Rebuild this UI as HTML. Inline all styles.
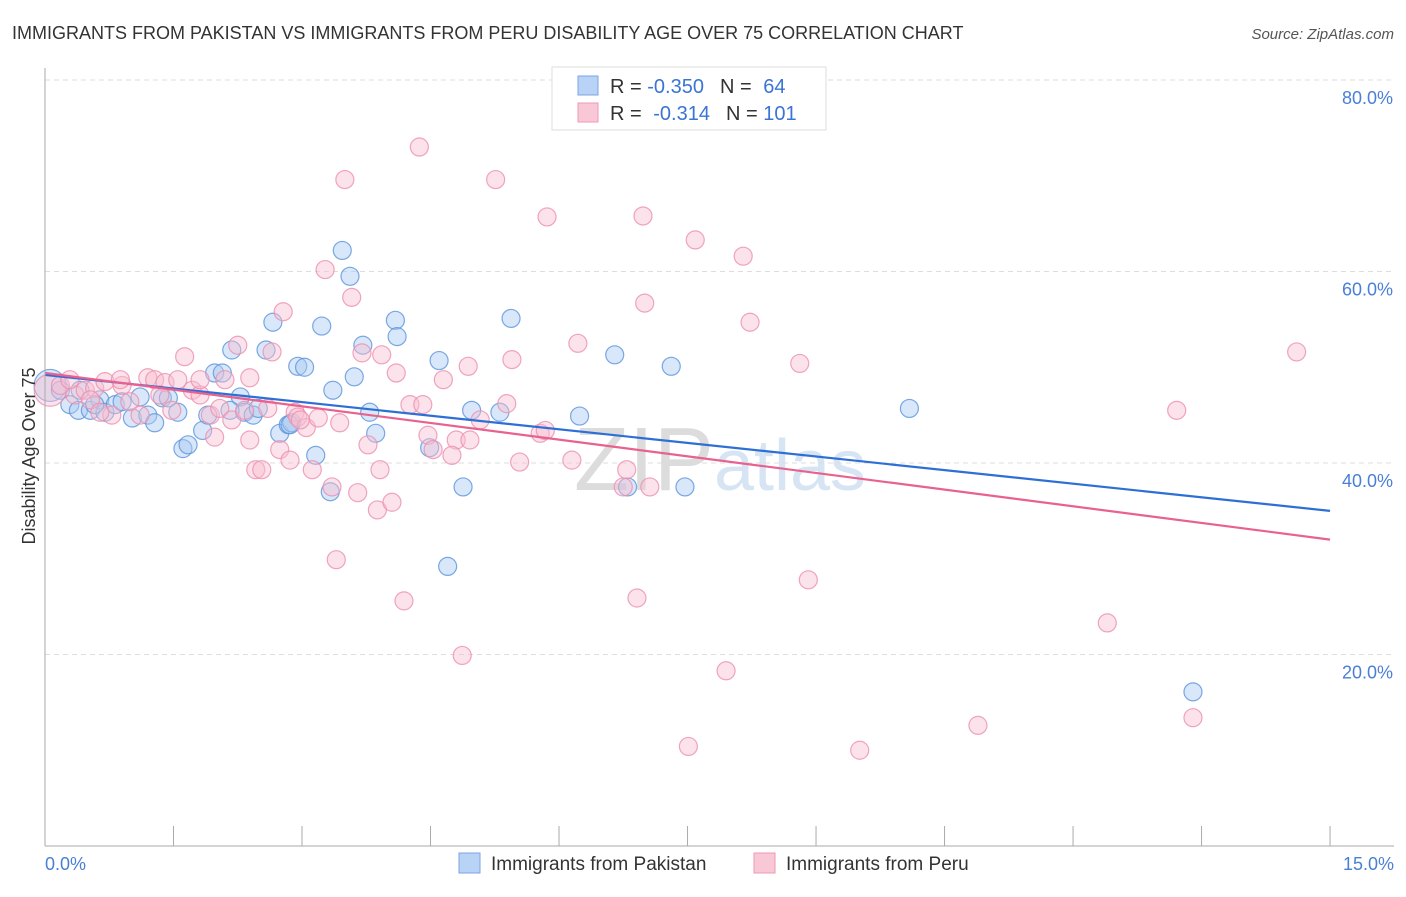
<!DOCTYPE html>
<html><head><meta charset="utf-8"><style>
body{margin:0;background:#fff;font-family:"Liberation Sans",sans-serif}
svg text{font-family:"Liberation Sans",sans-serif}
</style></head><body>
<svg id="chart" width="1406" height="892">
<text x="12" y="39" font-size="18" fill="#333">IMMIGRANTS FROM PAKISTAN VS IMMIGRANTS FROM PERU DISABILITY AGE OVER 75 CORRELATION CHART</text>
<text x="1394" y="39" font-size="15" fill="#555" font-style="italic" text-anchor="end">Source: ZipAtlas.com</text>
<text x="720" y="490" font-size="90" fill="#e4e4e4" text-anchor="middle" font-family="Liberation Serif"><tspan fill="#dcdcdc">ZIP</tspan><tspan fill="#d6e4f4" font-family="Liberation Sans" font-size="72">atlas</tspan></text>
<g id="grid"></g>
<g id="pts"></g>
<g id="lines"></g>
<line x1="45" y1="68" x2="45" y2="846" stroke="#aaa"/>
<line x1="45" y1="846" x2="1394" y2="846" stroke="#aaa"/>
<text x="35" y="456" font-size="18" fill="#333" text-anchor="middle" transform="rotate(-90 35 456)">Disability Age Over 75</text>
<text x="45" y="870" font-size="18" fill="#4a7fd6">0.0%</text>
<text x="1394" y="870" font-size="18" fill="#4a7fd6" text-anchor="end">15.0%</text>
<g>
<rect x="552" y="67" width="274" height="63" fill="#fff" stroke="#ddd"/>
<rect x="578" y="76" width="20" height="19" fill="#b8d3f5" stroke="#7aa6e0"/>
<rect x="578" y="103" width="20" height="19" fill="#f9c8d6" stroke="#ee99b3"/>
<text x="610" y="93" font-size="20" fill="#333">R = <tspan fill="#3a74d4">-0.350</tspan><tspan dx="16">N = </tspan><tspan fill="#3a74d4" dx="6">64</tspan></text>
<text x="610" y="120" font-size="20" fill="#333">R = <tspan fill="#3a74d4" dx="6">-0.314</tspan><tspan dx="16">N = </tspan><tspan fill="#3a74d4">101</tspan></text>
</g>
<g>
<rect x="459" y="853" width="21" height="20" fill="#b8d3f5" stroke="#7aa6e0"/>
<text x="491" y="870" font-size="19" fill="#333">Immigrants from Pakistan</text>
<rect x="754" y="853" width="21" height="20" fill="#f9c8d6" stroke="#ee99b3"/>
<text x="786" y="870" font-size="19" fill="#333">Immigrants from Peru</text>
</g>
</svg>
<script>
const yTicks=[20,40,60,80];
const yTickLabels=["20.0%","40.0%","60.0%","80.0%"];
const xTicks=[0,1.5,3,4.5,6,7.5,9,10.5,12,13.5,15];
const pakX=[0.06,0.18,0.29,0.39,0.53,0.64,0.70,0.82,0.90,1.02,1.11,1.20,1.28,1.37,1.44,1.55,1.61,1.67,1.84,1.90,1.98,2.07,2.18,2.28,2.33,2.43,2.49,2.58,2.66,2.74,2.84,2.88,2.95,3.03,3.16,3.23,3.33,3.36,3.47,3.56,3.61,3.71,3.79,3.86,4.09,4.11,4.49,4.60,4.70,4.88,4.98,5.31,5.44,6.24,6.65,6.80,7.31,7.47,10.09,13.40,0.41,0.58,2.16,2.86];
const pakY=[48.1,47.6,46.1,45.5,45.5,46.6,45.3,46.1,46.4,44.7,46.9,45.0,44.2,46.8,46.8,45.3,41.5,41.9,43.4,45.0,49.4,49.4,51.8,46.9,45.3,45.0,45.7,51.8,54.7,43.1,44.0,44.2,50.1,50.0,40.8,54.3,37.0,47.6,62.2,59.5,49.0,52.3,45.3,43.1,54.9,53.2,41.6,50.7,29.2,37.5,45.5,45.3,55.1,44.9,51.3,37.5,50.1,37.5,45.7,16.1,47.6,46.1,45.5,44.0];
const peruX=[0.06,0.18,0.35,0.47,0.58,0.70,0.78,0.90,0.99,1.11,1.20,1.28,1.40,1.48,1.55,1.63,1.72,1.81,1.93,1.98,2.04,2.10,2.18,2.25,2.33,2.39,2.46,2.53,2.60,2.65,2.74,2.78,2.86,2.92,2.95,3.05,3.12,3.19,3.27,3.35,3.40,3.44,3.50,3.58,3.65,3.70,3.77,3.88,3.93,4.05,4.10,4.19,4.26,4.37,4.41,4.47,4.53,4.65,4.80,4.75,4.87,4.94,5.08,5.26,5.39,5.45,5.54,5.78,5.86,6.15,6.22,6.75,6.79,6.91,6.98,7.00,7.06,7.51,7.59,7.95,8.15,8.23,8.81,8.91,9.51,10.89,12.40,13.21,13.40,14.61,0.29,0.53,0.64,0.88,1.34,1.81,2.98,2.39,4.96,5.84,3.91];
const peruY=[47.6,48.1,47.1,47.6,47.8,48.5,45.0,48.1,46.4,45.0,48.9,48.7,48.4,45.5,48.7,51.1,47.6,47.1,45.0,42.7,45.7,48.7,44.5,52.3,45.5,48.9,39.3,39.3,45.7,51.6,41.4,55.8,40.3,45.3,44.8,43.7,39.3,44.7,60.2,37.5,29.9,44.2,69.6,57.3,36.9,51.5,41.9,35.1,51.3,35.9,49.4,25.6,46.1,73.0,46.1,42.9,41.4,48.7,42.4,40.8,19.9,50.1,44.5,69.6,46.2,50.8,40.1,43.1,65.7,40.3,52.5,37.5,39.3,25.9,65.8,56.7,37.5,10.4,63.3,18.3,61.6,54.7,50.4,27.8,10.0,12.6,23.3,45.5,13.4,51.6,48.7,46.6,45.3,48.7,47.1,48.7,44.5,42.4,42.4,43.4,39.3];
const pakTrend=[49.2,35.0];
const peruTrend=[49.4,32.0];
const trendX=[0,15];
const NS='http://www.w3.org/2000/svg';
const sx=v=>45+v*85.67, sy=v=>846-v*9.575;
function mk(t,a,p){const e=document.createElementNS(NS,t);for(const k in a)e.setAttribute(k,a[k]);p.appendChild(e);return e;}
const grid=document.getElementById('grid');
yTicks.forEach((t,i)=>{
 const l=mk('line',{x1:45,x2:1394,y1:sy(t),y2:sy(t),stroke:'#ddd','stroke-dasharray':'5,4'},grid);
 
 
 const tx=mk('text',{x:1393,y:sy(t)+24,'font-size':18,fill:'#4a7fd6','text-anchor':'end'},grid);
 tx.textContent=yTickLabels[i];
 
 
});
const dg=mk('line',{x1:45,x2:1394,y1:sy(80),y2:sy(80),stroke:'#ddd','stroke-dasharray':'5,4'},grid);
xTicks.forEach(t=>{
 const l=mk('line',{x1:sx(t),x2:sx(t),y1:826,y2:846,stroke:'#aaa'},grid);
 
 
});
const pts=document.getElementById('pts');
function draw(X,Y,fill,stroke,name){
 X.forEach((x,i)=>{
  const c=mk('circle',{cx:sx(x),cy:sy(Y[i]),r:i===0?16:9,fill:fill,'fill-opacity':0.45,stroke:stroke,'stroke-opacity':0.8,'stroke-width':1.2},pts);
  
  
 });
}
draw(pakX,pakY,'#a9c9f2','#5b93dc','pakistan-point');
draw(peruX,peruY,'#f8bfd0','#ec8fae','peru-point');
const lines=document.getElementById('lines');
const bl=mk('line',{x1:sx(trendX[0]),y1:sy(pakTrend[0]),x2:sx(trendX[1]),y2:sy(pakTrend[1]),stroke:'#2e6fd6','stroke-width':2.2},lines);


const pl=mk('line',{x1:sx(trendX[0]),y1:sy(peruTrend[0]),x2:sx(trendX[1]),y2:sy(peruTrend[1]),stroke:'#e8618f','stroke-width':2.2},lines);


</script>
</body></html>
